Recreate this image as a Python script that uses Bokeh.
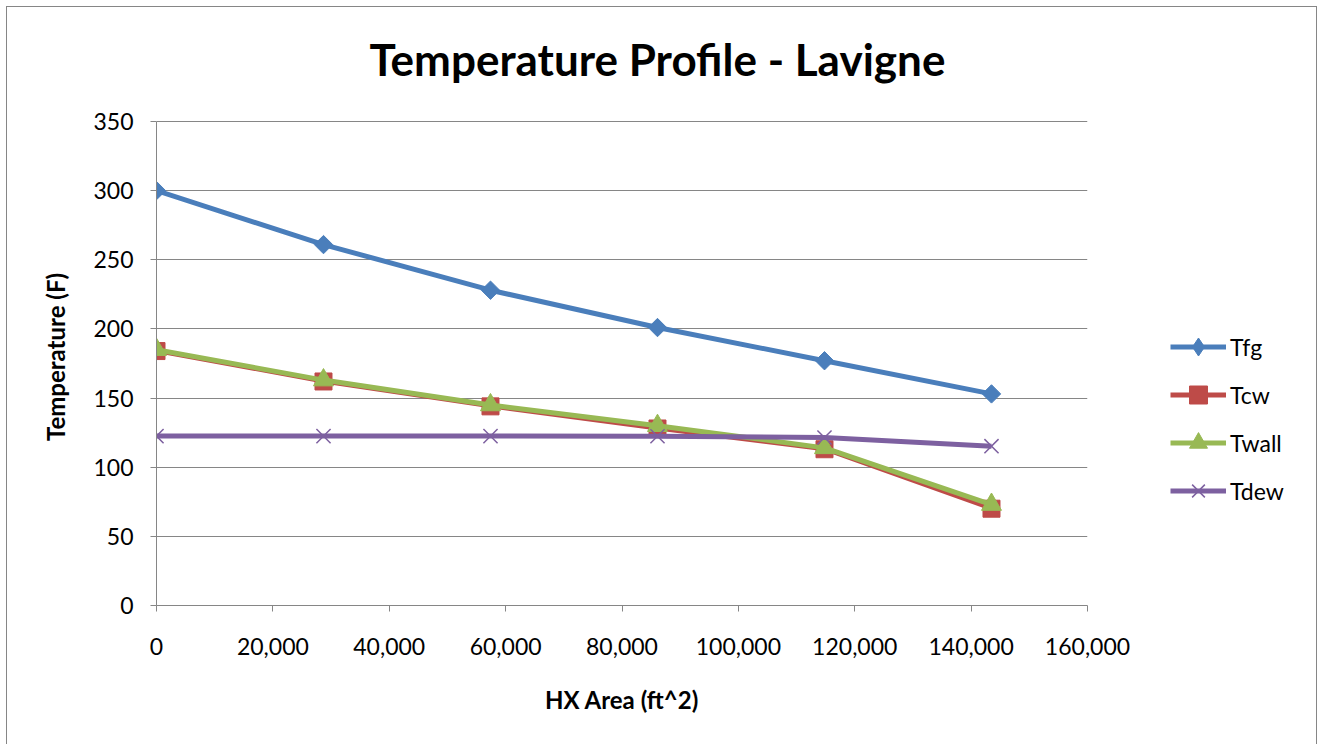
from bokeh.plotting import figure
from bokeh.layouts import row
from bokeh.models import Legend, LegendItem, NumeralTickFormatter, FixedTicker, Range1d
from bokeh.embed import file_html
from bokeh.resources import INLINE
import math

# HX area (ft^2) at each calculation node
area = [0, 28700, 57400, 86100, 114800, 143500]
# Temperatures (F)
t_fg = [300, 261, 228, 201, 177, 153]
t_cw = [184, 162, 144, 128, 113, 70]
t_wall = [185, 163, 145, 130, 114, 73]
t_dew = [122.5, 122.5, 122.5, 122.4, 121.5, 115.2]

x_ticks = [0, 20000, 40000, 60000, 80000, 100000, 120000, 140000, 160000]
y_ticks = [0, 50, 100, 150, 200, 250, 300, 350]
y_max = 350

GRID = "#868686"
FONT = "Lato"
BLUE, RED, GREEN, PURPLE = "#4A7EBB", "#BE4B48", "#98B954", "#7D60A0"

# chart canvas: frame bottom 139 px above the canvas bottom, 0..350 spans 484 px,
# the frame reaches up to the title so the top gridline sits 13 px below its edge
H = 737
FRAME_TOP, FRAME_BOTTOM, AXIS_PX = 101, H - 139, 484
y_end = y_max * (FRAME_BOTTOM - FRAME_TOP) / AXIS_PX

p = figure(
    width=1125, height=H,
    x_range=Range1d(0, 160000), y_range=Range1d(0, y_end),
    output_backend="svg", toolbar_location=None,
    min_border_left=149, min_border_right=45,
    min_border_top=0, min_border_bottom=139,
    title="Temperature Profile - Lavigne",
)
p.outline_line_color = None
p.background_fill_color = "white"
p.border_fill_color = "white"

p.title.text_font = FONT
p.title.text_font_style = "bold"
p.title.text_font_size = "44px"
p.title.align = "left"
p.title.offset = 213
p.title.standoff = 47
p.title.text_color = "black"

for ax in (p.xaxis[0], p.yaxis[0]):
    ax.axis_line_color = GRID
    ax.major_tick_line_color = GRID
    ax.minor_tick_line_color = None
    ax.major_tick_out = 6
    ax.major_tick_in = 0
    ax.major_label_text_font = FONT
    ax.major_label_text_font_size = "23px"
    ax.major_label_text_color = "black"
    ax.axis_label_text_font = FONT
    ax.axis_label_text_font_style = "bold"
    ax.axis_label_text_font_size = "24px"
    ax.axis_label_text_color = "black"

p.xaxis.ticker = FixedTicker(ticks=x_ticks)
p.xaxis.formatter = NumeralTickFormatter(format="0,0")
p.xaxis.major_label_standoff = 26
p.xaxis.axis_label = "HX Area (ft^2)"
p.xaxis.axis_label_standoff = 27

p.yaxis.ticker = FixedTicker(ticks=y_ticks)
p.yaxis.bounds = (0, y_max)
p.yaxis.major_label_standoff = 17
p.yaxis.axis_label = "Temperature (F)"
p.yaxis.axis_label_standoff = 20

p.xgrid.grid_line_color = None
p.ygrid.ticker = FixedTicker(ticks=y_ticks[1:])
p.ygrid.grid_line_color = GRID
p.ygrid.grid_line_width = 1

# series on the chart
p.line(area, t_fg, line_color=BLUE, line_width=5)
p.scatter(area, t_fg, marker="square", angle=math.pi / 4, size=13,
          fill_color=BLUE, line_color=BLUE)
p.line(area, t_cw, line_color=RED, line_width=4)
p.scatter(area, t_cw, marker="square", size=17, fill_color=RED, line_color=RED)
p.line(area, t_wall, line_color=GREEN, line_width=5)
p.scatter(area, t_wall, marker="triangle", size=20, fill_color=GREEN, line_color=GREEN)
p.line(area, t_dew, line_color=PURPLE, line_width=5)
p.scatter(area, t_dew, marker="x", size=20, line_color=PURPLE, line_width=1.5)

# legend panel: same series, ranges chosen so only the legend shows
lg = figure(
    width=184, height=H,
    x_range=Range1d(-2, -1), y_range=Range1d(-2, -1),
    output_backend="svg", toolbar_location=None,
    min_border=0,
)
lg.axis.visible = False
lg.grid.visible = False
lg.outline_line_color = None
lg.background_fill_color = "white"
lg.border_fill_color = "white"

g1 = [lg.line(area, t_fg, line_color=BLUE, line_width=5),
      lg.scatter(area, t_fg, marker="diamond", size=20, fill_color=BLUE, line_color=BLUE)]
g2 = [lg.line(area, t_cw, line_color=RED, line_width=5),
      lg.scatter(area, t_cw, marker="square", size=17, fill_color=RED, line_color=RED)]
g3 = [lg.line(area, t_wall, line_color=GREEN, line_width=5),
      lg.scatter(area, t_wall, marker="triangle", size=20, fill_color=GREEN, line_color=GREEN)]
g4 = [lg.line(area, t_dew, line_color=PURPLE, line_width=5),
      lg.scatter(area, t_dew, marker="x", size=20, line_color=PURPLE, line_width=1.5)]

legend = Legend(
    items=[
        LegendItem(label="Tfg", renderers=g1),
        LegendItem(label="Tcw", renderers=g2),
        LegendItem(label="Twall", renderers=g3),
        LegendItem(label="Tdew", renderers=g4),
    ],
    location=(38, 92),
    orientation="vertical",
    border_line_color=None,
    background_fill_alpha=0,
    padding=0, margin=0,
    spacing=3,
    glyph_width=56, glyph_height=45,
    label_height=24, label_standoff=4,
    label_text_font=FONT, label_text_font_size="23px",
    label_text_color="black",
)
lg.add_layout(legend, "center")

layout = row(p, lg, spacing=0)
layout.styles = {
    "margin-left": "6px", "margin-top": "6px",
    "border-left": f"1px solid {GRID}", "border-top": f"1px solid {GRID}",
    "border-right": f"1px solid {GRID}",
}

open("out.html", "w").write(file_html(layout, INLINE))
